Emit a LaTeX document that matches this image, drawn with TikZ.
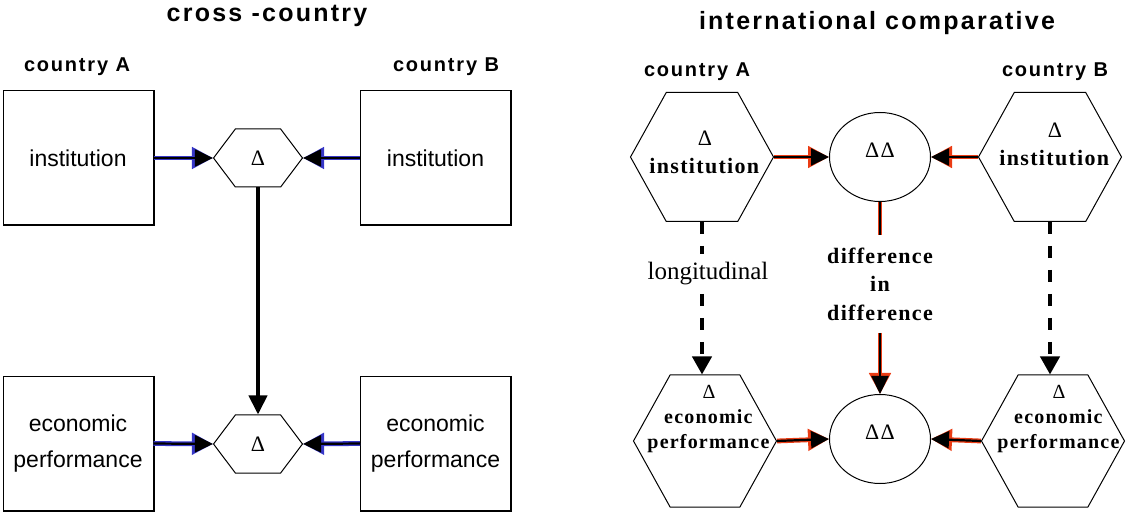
\documentclass[tikz,border=0pt]{standalone}
\usepackage{fontspec}
\setmainfont{Liberation Serif}
\newfontfamily\sansfont{Liberation Sans}
\newfontfamily\sanssp[LetterSpace=9]{Liberation Sans}
\newfontfamily\serifsp[LetterSpace=6]{Liberation Serif}
\usetikzlibrary{arrows.meta,shapes.geometric,shapes.symbols}
\definecolor{edgered}{RGB}{235,60,20}
\definecolor{edgeblue}{RGB}{55,55,200}

\tikzset{
  headline/.style={font=\sanssp\bfseries\fontsize{12.5}{15}\selectfont, anchor=base, inner sep=0pt},
  country/.style={font=\sanssp\bfseries\fontsize{10}{12}\selectfont, anchor=base, inner sep=0pt},
  box/.style={draw, line width=0.5pt, minimum width=75pt, minimum height=67pt, align=center,
    font=\sansfont\fontsize{11.5}{18}\selectfont},
  smallhex/.style={draw, line width=0.5pt, shape=signal, signal to=west and east, signal pointer angle=106,
    minimum width=44.5pt, minimum height=29pt, inner sep=0pt, font=\fontsize{11}{13}\selectfont},
  bighex/.style={draw, line width=0.5pt, shape=signal, signal to=west and east, signal pointer angle=122,
    minimum width=71.5pt, minimum height=64.5pt, inner sep=0pt},
  insttext/.style={align=center, inner sep=0pt, font=\serifsp\fontsize{11}{14}\selectfont},
  econtext/.style={align=center, inner sep=0pt, font=\serifsp\fontsize{10}{12.5}\selectfont},
  dd/.style={draw, ellipse, line width=0.5pt, minimum width=50.5pt, minimum height=44.5pt, inner sep=0pt,
    text depth=7pt, font=\serifsp\fontsize{11}{13}\selectfont},
  edged/.style={line width=1.1pt, -{Triangle[length=9pt,width=8.5pt]},
    preaction={draw=#1, line width=2.4pt, -{Triangle[length=10.5pt,width=10.5pt]}}},
  edgedline/.style={line width=1.1pt, preaction={draw=#1, line width=2.4pt}},
  blackarrow/.style={line width=2pt, -{Triangle[length=9.5pt,width=9pt]}},
  dasharrow/.style={line width=2pt, dash pattern=on 6pt off 6pt, -{Triangle[length=9pt,width=9.5pt]}},
}

\begin{document}
\begin{tikzpicture}[x=0.5pt, y=-0.5pt]
\useasboundingbox (0,0) rectangle (1136,513);
%cross-country
\node[headline] (cross) at (267,22) {cross -country};
\node[country] (ctryA) at (77,72) {country A};
\node[country] (ctryB) at (446,72) {country B};
\node[box] (instA) at (78,158) {institution};
\node[box] (instB) at (435.5,158) {institution};
\node[box] (econA) at (78,443.5) {economic\\performance};
\node[box] (econB) at (435.5,443.5) {economic\\performance};
\foreach \b in {instA,instB,econA,econB}
  \draw[line width=1pt] (\b.north east) -- (\b.south east) -- (\b.south west);
\node[smallhex] (dInst) at (258,158) {Δ};
\node[smallhex] (dEcon) at (258,444) {Δ};
\draw[edged=edgeblue] (instA.east) -- (dInst.west);
\draw[edged=edgeblue] (instB.west) -- (dInst.east);
\draw[edged=edgeblue] (econA.east) -- (dEcon.west);
\draw[edged=edgeblue] (econB.west) -- (dEcon.east);
\draw[blackarrow] (dInst.south) -- (dEcon.north);
%international comparative
\node[headline] (intl) at (877,30) {international comparative};
\node[country] (ctryA2) at (697,77) {country A};
\node[country] (ctryB2) at (1055,77) {country B};
\node[bighex] (hInstA) at (702,157) {};
\node[bighex] (hInstB) at (1050,157) {};
\node[bighex, minimum height=66pt] (hEconA) at (705,441) {};
\node[bighex, minimum height=66pt] (hEconB) at (1053,441) {};
\node[insttext] (tInstA) at (705,152) {Δ\\\textbf{institution}};
\node[insttext] (tInstB) at (1055,144) {Δ\\\textbf{institution}};
\node[econtext] (tEconA) at (709,419) {Δ\\\textbf{economic}\\\textbf{performance}};
\node[econtext] (tEconB) at (1059,419) {Δ\\\textbf{economic}\\\textbf{performance}};
\node[dd] (ddInst) at (880,157) {ΔΔ};
\node[dd] (ddEcon) at (880,439) {ΔΔ};
\node[align=center, inner sep=6pt, font=\serifsp\bfseries\fontsize{11}{14.25}\selectfont] (did) at (880,284) {difference\\in\\difference};
\draw[edged=edgered] (hInstA.east) -- (ddInst.west);
\draw[edged=edgered] (hInstB.west) -- (ddInst.east);
\draw[edged=edgered] (hEconA.east) -- (ddEcon.west);
\draw[edged=edgered] (hEconB.west) -- (ddEcon.east);
\draw[edgedline=edgered] (ddInst.south) -- (did.north);
\draw[edged=edgered] (did.south) -- (ddEcon.north);
\draw[dasharrow] (hInstA.south) -- node[pos=0.34, xshift=3pt, fill=white, inner xsep=1pt, inner ysep=4pt, font=\fontsize{12.5}{15}\selectfont] (longi) {longitudinal} (hInstA.south |- hEconA.north);
\draw[dasharrow] (hInstB.south) -- (hInstB.south |- hEconB.north);
\end{tikzpicture}
\end{document}
